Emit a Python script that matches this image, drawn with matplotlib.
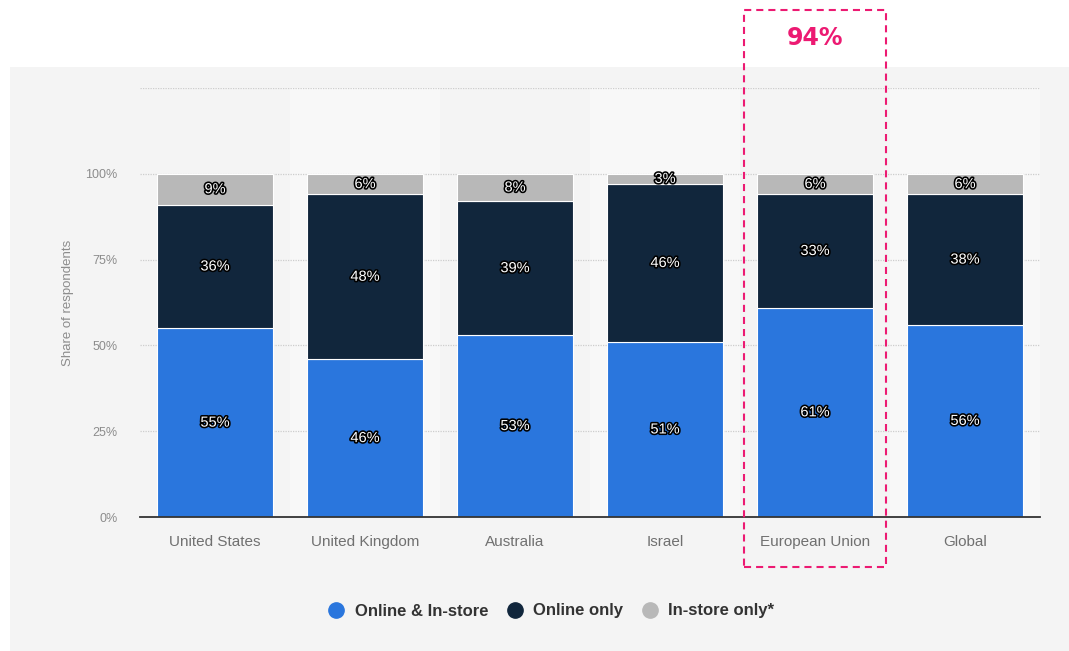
"""Stacked share-of-respondents chart by shopping channel and region."""

import matplotlib

matplotlib.use("Agg")

import matplotlib.patheffects as pe
import matplotlib.pyplot as plt
import numpy as np
from matplotlib.lines import Line2D
from matplotlib.patches import Rectangle

plt.rcParams["font.family"] = ["Liberation Sans", "DejaVu Sans"]

REGIONS = ["United States", "United Kingdom", "Australia", "Israel", "European Union", "Global"]
ONLINE_AND_INSTORE = [55, 46, 53, 51, 61, 56]
ONLINE_ONLY = [36, 48, 39, 46, 33, 38]
INSTORE_ONLY = [9, 6, 8, 3, 6, 6]
SERIES_LABELS = ["Online & In-store", "Online only", "In-store only*"]
HIGHLIGHT_REGION = "European Union"
HIGHLIGHT_TEXT = "94%"

COLORS = ["#2a76dd", "#11263c", "#b8b8b8"]
PANEL_BG = "#f4f4f4"
BAND_BG = "#f8f8f8"
PINK = "#ec1a72"

W, H = 1069, 651


def main() -> None:
    fig = plt.figure(figsize=(W / 100, H / 100), dpi=100)
    fig.patch.set_facecolor("white")

    # grey panel behind the chart and legend
    fig.patches.append(
        Rectangle((10 / W, 0), 1 - 10 / W, 1 - 67 / H, transform=fig.transFigure,
                  facecolor=PANEL_BG, edgecolor="none", zorder=-10)
    )

    ax = fig.add_axes([140 / W, 1 - 517 / H, 900 / W, 429 / H])
    ax.set_facecolor("none")
    x = np.arange(len(REGIONS))
    ax.set_xlim(-0.5, len(REGIONS) - 0.5)
    ax.set_ylim(0, 125)

    for i in x:
        if i % 2 == 1:
            ax.axvspan(i - 0.5, i + 0.5, color=BAND_BG, zorder=0, lw=0)

    for yv in [25, 50, 75, 100, 125]:
        ax.axhline(yv, color="#cdcdcd", lw=0.9, ls=(0, (1, 1)), zorder=1)

    stroke = [pe.withStroke(linewidth=2.3, foreground="black")]
    bottom = np.zeros(len(REGIONS))
    for values, color in zip([ONLINE_AND_INSTORE, ONLINE_ONLY, INSTORE_ONLY], COLORS):
        values = np.array(values, dtype=float)
        ax.bar(x, values, bottom=bottom, width=0.77, color=color,
               edgecolor="white", linewidth=0.8, zorder=2)
        for xi, b, v in zip(x, bottom, values):
            ax.text(xi, b + v / 2, f"{int(v)}%", ha="center", va="center",
                    fontsize=10.5, color="white", path_effects=stroke, zorder=4)
        bottom += values

    for side in ["top", "right", "left"]:
        ax.spines[side].set_visible(False)
    ax.spines["bottom"].set_color("#333333")
    ax.spines["bottom"].set_linewidth(1.3)
    ax.spines["bottom"].set_zorder(5)

    ax.set_yticks([0, 25, 50, 75, 100])
    ax.set_yticklabels(["0%", "25%", "50%", "75%", "100%"])
    ax.tick_params(axis="y", length=0, pad=16, labelsize=9, labelcolor="#8c8c8c")
    ax.set_xticks(x, labels=REGIONS)
    ax.tick_params(axis="x", length=0, pad=13, labelsize=11, labelcolor="#707070")
    ax.set_ylabel("Share of respondents", fontsize=9.5, color="#8c8c8c")
    ax.yaxis.set_label_coords(-(140 - 74) / 900, 0.5)

    handles = [
        Line2D([], [], marker="o", ls="none", markersize=11, markerfacecolor=c,
               markeredgecolor=c)
        for c in COLORS
    ]
    fig.legend(handles, SERIES_LABELS, loc="center", bbox_to_anchor=(547 / W, 1 - 611 / H),
               ncol=3, frameon=False, handletextpad=0.1, columnspacing=0.6,
               prop={"weight": "bold", "size": 12}, labelcolor="#333333")

    # dashed highlight around the EU column
    hi = REGIONS.index(HIGHLIGHT_REGION)
    cx = fig.transFigure.inverted().transform(ax.transData.transform((hi, 0)))[0]
    half = 71 / W
    fig.patches.append(
        Rectangle((cx - half, 1 - 567 / H), 2 * half, (567 - 10) / H, transform=fig.transFigure,
                  fill=False, edgecolor=PINK, linewidth=1.5, linestyle=(0, (3.4, 2.4)), zorder=6)
    )
    fig.text(cx, 1 - 38 / H, HIGHLIGHT_TEXT, ha="center", va="center", fontsize=17,
             fontweight="bold", color=PINK, family=["DejaVu Sans"])

    fig.savefig("out.png", dpi=100, facecolor=fig.get_facecolor())
    plt.close(fig)


if __name__ == "__main__":
    main()
